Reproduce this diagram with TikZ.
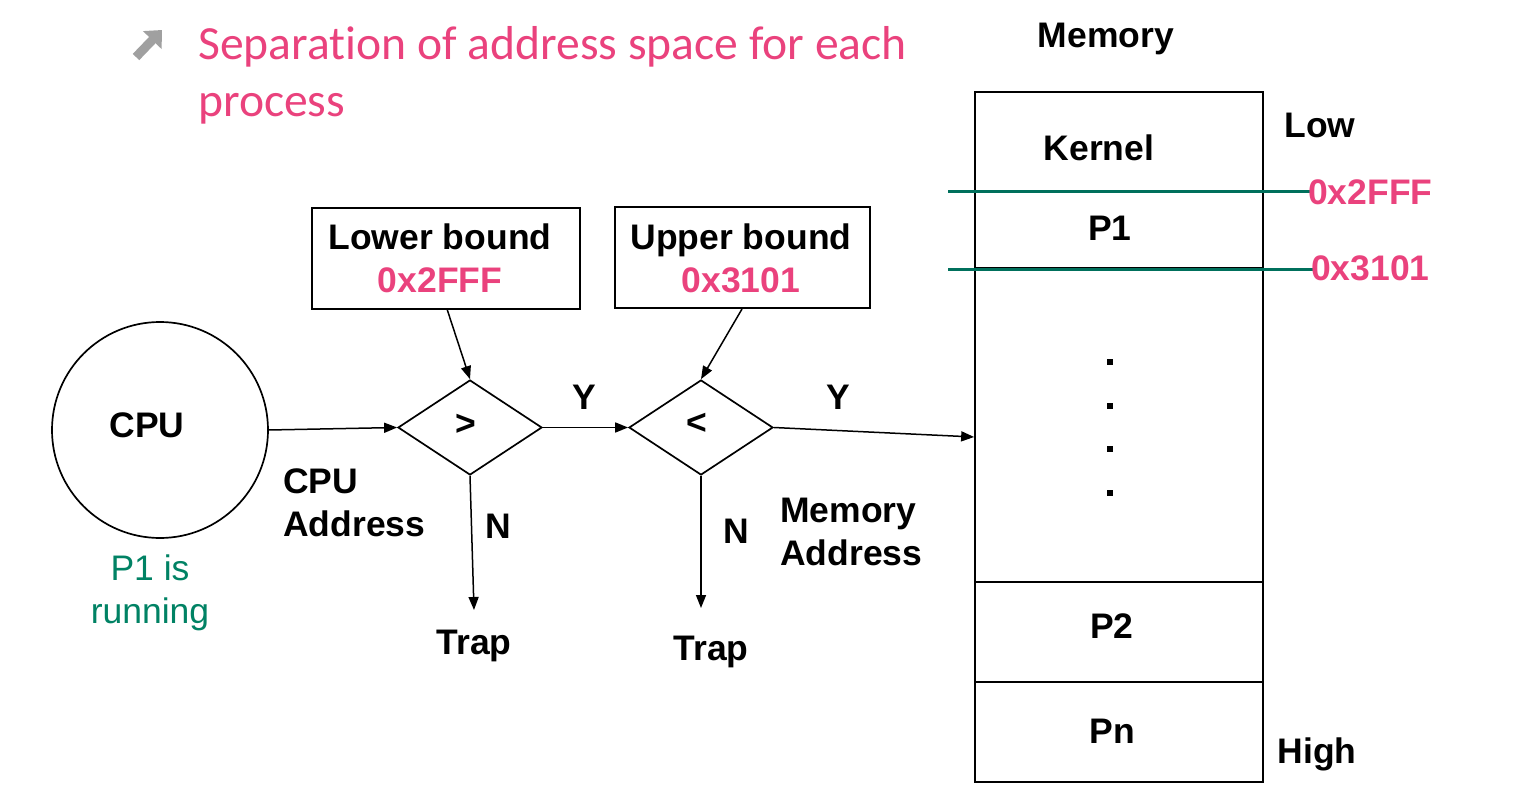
\documentclass[tikz,border=0pt]{standalone}
\usepackage{fontspec}
\setmainfont{Liberation Sans}
\newfontfamily\titlefont[Ligatures=NoCommon]{Carlito}
\usetikzlibrary{shapes.geometric,arrows.meta}
\definecolor{hexpink}{RGB}{234,66,125}
\definecolor{runteal}{RGB}{0,130,100}
\definecolor{linegreen}{RGB}{0,112,92}
\definecolor{icongray}{RGB}{160,160,160}
\tikzset{
  lbl/.style={font=\fontsize{35.5}{43}\selectfont\bfseries, inner sep=0pt},
  hexlbl/.style={lbl, text=hexpink},
  boundbox/.style={draw, line width=1.7pt, inner sep=0pt},
  cmp/.style={draw, diamond, line width=1.7pt, inner sep=0pt,
     minimum width=144pt, minimum height=95pt},
  conn/.style={line width=1.5pt, -{Triangle[length=13pt,width=10pt]}},
  bline/.style={line width=1.7pt},
  gline/.style={line width=3pt, draw=linegreen},
  dotmark/.style={fill=black}
}
\begin{document}
\begin{tikzpicture}[x=1pt,y=-1pt]
\useasboundingbox (0,0) rectangle (1513,794);
\fill[white] (0,0) rectangle (1513,794);

% title
\coordinate (ic1) at (136,57);
\coordinate (ic2) at (162,30);
\draw[icongray, line width=9pt, -{Triangle[length=14pt,width=25pt]}] (ic1) -- (ic2);
\node[anchor=base west, inner sep=0pt, text=hexpink, font=\titlefont\fontsize{47.6}{57}\selectfont] (t1) at (198,60) {Separation of address space for each};
\node[anchor=base west, inner sep=0pt, text=hexpink, font=\titlefont\fontsize{47.6}{57}\selectfont] (t2) at (198,117) {process};

% CPU
\node[draw, circle, line width=1.7pt, minimum size=216pt, inner sep=0pt] (cpu) at (160,430) {};
\node[lbl, anchor=base] (cputxt) at (147,437) {CPU};
\node[lbl, font=\fontsize{35.5}{43}\selectfont, text=runteal, align=center] (run) at (150,593) {P1 is\\running};
\node[lbl, align=left, anchor=west] (cpuaddr) at (283,502.5) {CPU\\Address};

% bound boxes
\node[boundbox, minimum width=268pt, minimum height=101pt] (lb) at (446,258.5) {};
\node[lbl, align=center] (lbtxt) at (440,258.5) {Lower bound\\\textcolor{hexpink}{0x2FFF}};
\node[boundbox, minimum width=255pt, minimum height=101pt] (ub) at (742.5,257.5) {};
\node[lbl, align=center] (ubtxt) at (741,258) {Upper bound\\\textcolor{hexpink}{0x3101}};

% comparators
\node[cmp] (d1) at (470,427.5) {};
\node[lbl] (gt) at (466,425) {>};
\node[cmp] (d2) at (701,427.5) {};
\node[lbl] (lt) at (697,424) {<};

% memory
\node[draw, line width=1.7pt, minimum width=288pt, minimum height=690pt, inner sep=0pt] (mem) at (1119,437) {};
\coordinate (m268l) at (975,268);
\coordinate (m268r) at (1263,268);
\coordinate (m582l) at (975,582);
\coordinate (m582r) at (1263,582);
\coordinate (m682l) at (975,682);
\coordinate (m682r) at (1263,682);
\draw[bline] (m268l) -- (m268r);
\draw[bline] (m582l) -- (m582r);
\draw[bline] (m682l) -- (m682r);
\coordinate (g1l) at (948,192);
\coordinate (g1r) at (1310,192);
\coordinate (g2l) at (948,270);
\coordinate (g2r) at (1313,270);
\draw[gline] (g1l) -- (g1r);
\draw[gline] (g2l) -- (g2r);
\node[hexlbl, anchor=base west] (h1) at (1308,205) {0x2FFF};
\node[hexlbl, anchor=base west] (h2) at (1311,281) {0x3101};

\node[lbl, anchor=base] (memtitle) at (1106,48) {Memory};
\node[lbl, anchor=base] (kern) at (1099,161) {Kernel};
\node[lbl, anchor=base] (p1) at (1110,241) {P1};
\node[lbl, anchor=base] (p2) at (1112,638) {P2};
\node[lbl, anchor=base] (pn) at (1112,743) {Pn};
\node[lbl, anchor=base] (low) at (1320,138) {Low};
\node[lbl, anchor=base] (high) at (1317,763) {High};
\foreach \yy in {362,406,449,493}{
  \fill[dotmark] (1107,\yy-3) rectangle (1113,\yy+3);
}

% connectors
\draw[conn] (cpu.east) -- (d1.west);
\draw[conn] (d1.east) -- (d2.west);
\draw[conn] (d2.east) -- (mem.west);
\coordinate (lbs) at (447,309);
\coordinate (ubs) at (742,309);
\draw[conn] (lbs) -- (d1.north);
\draw[conn] (ubs) -- (d2.north);
\coordinate (n1e) at (474,610);
\coordinate (n2e) at (701,608);
\draw[conn] (d1.south) -- (n1e);
\draw[conn] (d2.south) -- (n2e);

\node[lbl, anchor=base] (y1) at (584,409) {Y};
\node[lbl, anchor=base] (y2) at (838,409) {Y};
\node[lbl, anchor=base] (n1) at (498,538) {N};
\node[lbl, anchor=base] (n2) at (736,543) {N};
\node[lbl, anchor=base] (trap1) at (474,654) {Trap};
\node[lbl, anchor=base] (trap2) at (711,660) {Trap};
\node[lbl, align=left, anchor=west] (memaddr) at (780,532) {Memory\\Address};
\end{tikzpicture}
\end{document}
